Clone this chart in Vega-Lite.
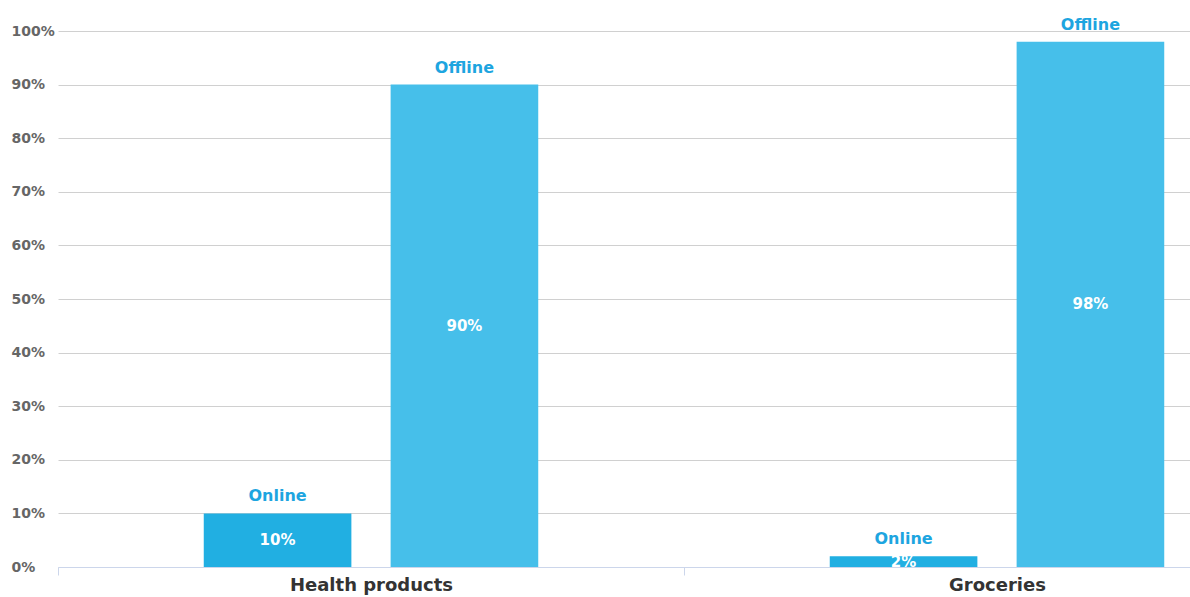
{
  "$schema": "https://vega.github.io/schema/vega-lite/v6.json",
  "width": 1132,
  "height": 536,
  "autosize": {"type": "none"},
  "padding": {"left": 58, "top": 31, "right": 0, "bottom": 30},
  "background": "white",
  "config": {"view": {"stroke": null}, "font": "DejaVu Sans"},
  "data": {
    "values": [
      {"category": "Health products", "channel": "Online", "value": 10},
      {"category": "Health products", "channel": "Offline", "value": 90},
      {"category": "Groceries", "channel": "Online", "value": 2},
      {"category": "Groceries", "channel": "Offline", "value": 98}
    ]
  },
  "transform": [
    {"calculate": "datum.value / 2", "as": "mid"},
    {"calculate": "datum.value + '%'", "as": "lbl"}
  ],
  "encoding": {
    "x": {
      "field": "category",
      "type": "nominal",
      "sort": ["Health products", "Groceries"],
      "scale": {"range": [0, 1252], "paddingInner": 0, "paddingOuter": 0},
      "axis": {
        "title": null,
        "labelAngle": 0,
        "labelFontSize": 18,
        "labelFontWeight": "bold",
        "labelColor": "#333333",
        "domainColor": "#ccd6eb",
        "tickColor": "#ccd6eb",
        "tickSize": 8,
        "tickBand": "extent",
        "labelPadding": 1,
        "grid": false
      }
    },
    "xOffset": {
      "field": "channel",
      "type": "nominal",
      "sort": ["Online", "Offline"],
      "scale": {"paddingInner": 0.21, "paddingOuter": 0.78}
    }
  },
  "layer": [
    {
      "mark": {"type": "bar"},
      "encoding": {
        "y": {
          "field": "value",
          "type": "quantitative",
          "scale": {"domain": [0, 100], "nice": false},
          "axis": {
            "title": null,
            "values": [0, 10, 20, 30, 40, 50, 60, 70, 80, 90, 100],
            "labelExpr": "datum.value + '%'",
            "grid": true,
            "gridColor": "#d0d0d0",
            "domain": false,
            "ticks": false,
            "labelAlign": "left",
            "labelPadding": 47,
            "labelFontSize": 14,
            "labelFontWeight": "bold",
            "labelColor": "#666666"
          }
        },
        "color": {
          "field": "channel",
          "type": "nominal",
          "scale": {"domain": ["Online", "Offline"], "range": ["#21afe2", "#46bfea"]},
          "legend": null
        }
      }
    },
    {
      "mark": {"type": "text", "baseline": "bottom", "dy": -9, "fontWeight": "bold", "fontSize": 16, "color": "#1da5e0"},
      "encoding": {
        "y": {"field": "value", "type": "quantitative"},
        "text": {"field": "channel"}
      }
    },
    {
      "mark": {"type": "text", "baseline": "middle", "fontWeight": "bold", "fontSize": 15, "color": "white", "clip": true},
      "encoding": {
        "y": {"field": "mid", "type": "quantitative"},
        "text": {"field": "lbl"}
      }
    }
  ]
}
